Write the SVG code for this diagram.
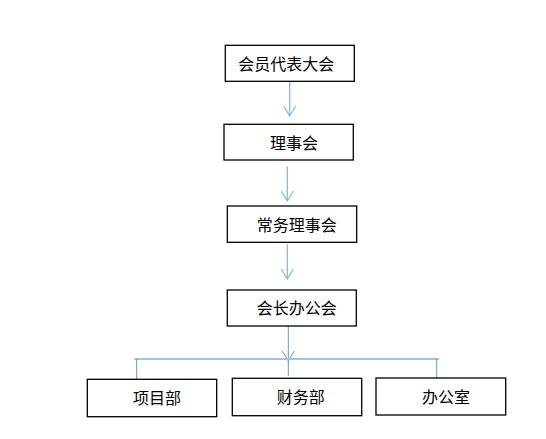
<svg xmlns="http://www.w3.org/2000/svg" width="546" height="439" viewBox="0 0 546 439">
<style>
.box{fill:#fff;stroke:#000;stroke-width:1.3}
.t{font-family:"Noto Sans CJK SC","Liberation Sans",sans-serif;font-size:16px;fill:#000}
.c{fill:none;stroke:#8cb8e4;stroke-width:1.3}
.s{fill:none;stroke:#5b9bd5;stroke-width:1}
.h{fill:none;stroke:#9dc3e6;stroke-width:2}
</style>
<rect width="546" height="439" fill="#fff"/>
<g id="connectors">
<path class="c" d="M289.7 81.5V116M283.7 106 289.7 116 295.7 106"/>
<path class="c" d="M287.3 166.5V201M281.3 191 287.3 201 293.3 191"/>
<path class="c" d="M287.3 244.3V279M281.3 269 287.3 279 293.3 269"/>
<path class="s" d="M288.3 326V376M282.3 351 288.3 361 294.3 351"/>
<path class="h" d="M134.3 359H439"/>
<path class="s" d="M136.7 359V379M436.7 359V379"/>
</g>
<g id="n1"><rect class="box" x="225.3" y="45.3" width="129" height="36"/><text class="t" x="238.3" y="70">会员代表大会</text></g>
<g id="n2"><rect class="box" x="224" y="124.3" width="129.3" height="35.7"/><text class="t" x="270" y="148.5">理事会</text></g>
<g id="n3"><rect class="box" x="227.3" y="206" width="129.4" height="36.3"/><text class="t" x="256.7" y="230.5">常务理事会</text></g>
<g id="n4"><rect class="box" x="227.3" y="290" width="129" height="36"/><text class="t" x="256.7" y="314">会长办公会</text></g>
<g id="n5"><rect class="box" x="87.3" y="379.3" width="129.4" height="37.4"/><text class="t" x="133" y="404">项目部</text></g>
<g id="n6"><rect class="box" x="232.3" y="378.3" width="129.4" height="37.4"/><text class="t" x="276.7" y="403">财务部</text></g>
<g id="n7"><rect class="box" x="376" y="378" width="129.7" height="37"/><text class="t" x="422" y="402.5">办公室</text></g>
</svg>
